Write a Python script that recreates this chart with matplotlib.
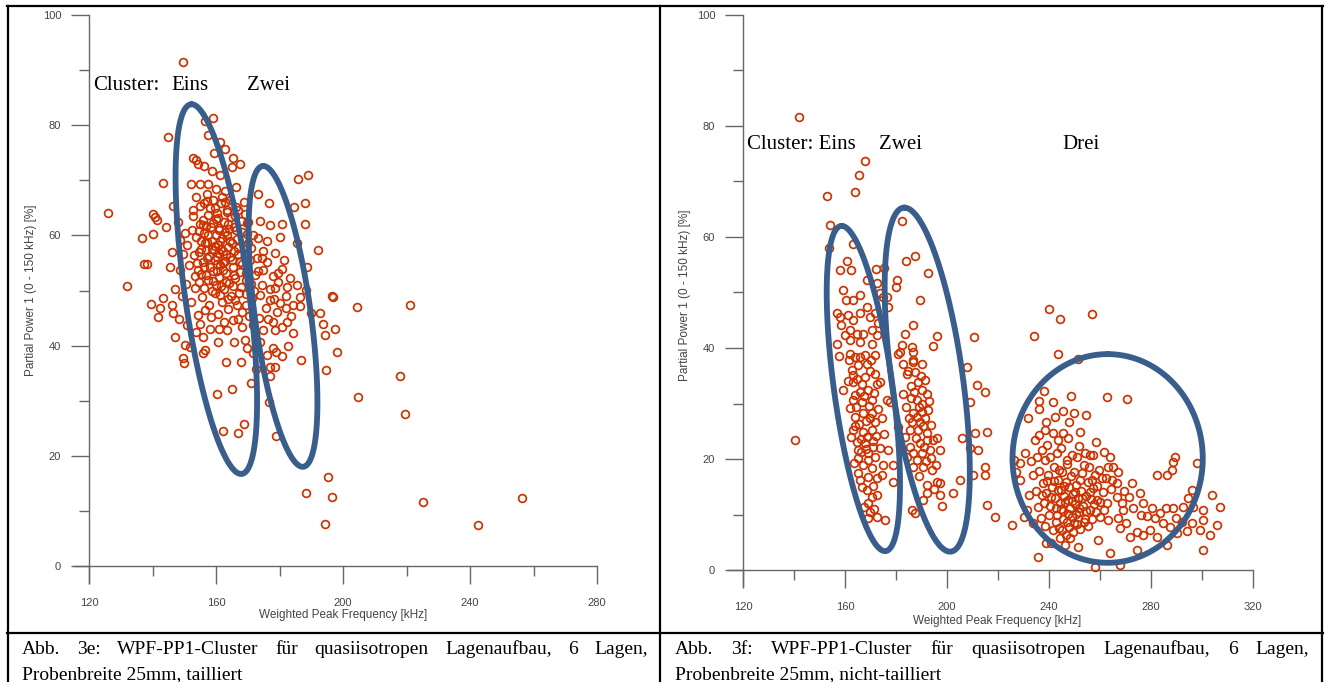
import numpy as np
import matplotlib
matplotlib.use('Agg')
import matplotlib.pyplot as plt
from matplotlib.lines import Line2D

W, H = 1330, 682

# ---- Abb. 3e (tailliert): (WPF kHz, PP1 %)
pts_3e_spread = [
    (149.5, 91.5), (159.2, 81.3), (156.5, 80.8), (145.0, 77.9), (157.6, 78.3), (161.3, 77.0),
    (162.8, 75.6), (159.4, 74.9), (152.7, 74.1), (153.7, 73.7), (154.4, 72.9), (165.4, 74.0),
    (167.6, 72.9), (164.9, 72.5), (156.3, 72.6), (158.6, 71.7), (161.3, 71.0), (143.2, 69.6),
    (152.1, 69.3), (155.0, 69.3), (157.6, 69.4), (160.0, 68.5), (162.8, 68.1), (166.2, 68.8),
    (185.9, 70.2), (189.1, 71.0), (173.3, 67.6), (176.8, 65.8), (188.0, 65.8), (184.6, 65.2),
    (126.1, 64.1), (140.3, 63.9), (140.8, 63.4), (141.3, 62.8), (146.6, 65.3), (153.7, 67.0),
    (157.1, 67.6), (156.3, 65.8), (159.2, 66.4), (161.8, 67.0), (164.4, 66.5), (152.9, 63.5),
    (156.0, 62.8), (160.2, 64.0), (163.4, 64.6), (166.2, 65.2), (144.3, 61.5), (136.6, 59.5),
    (140.3, 60.3), (169.7, 62.3), (177.0, 61.9), (180.7, 62.0), (188.0, 62.1), (173.3, 59.5),
    (176.0, 58.9), (178.6, 56.8), (174.9, 57.1), (180.0, 59.8), (185.4, 58.6), (192.2, 57.3),
    (137.4, 54.9), (138.2, 54.9), (131.9, 50.8), (146.0, 57.0), (145.5, 54.3), (148.7, 53.7),
    (188.6, 54.3), (196.4, 49.0), (186.5, 48.9), (182.3, 50.7), (178.6, 50.4), (174.9, 53.7),
    (174.4, 51.0), (143.4, 48.6), (139.5, 47.5), (142.4, 46.8), (141.8, 45.2), (146.0, 47.4),
    (146.6, 45.9), (149.2, 49.0), (147.1, 41.6), (150.2, 40.1), (151.8, 39.8), (149.5, 37.7),
    (150.0, 36.8), (155.0, 44.0), (156.0, 41.6), (156.5, 39.2), (156.0, 38.6), (160.7, 40.7),
    (163.4, 42.8), (165.4, 44.6), (168.1, 43.4), (169.1, 41.0), (169.7, 39.5), (163.2, 37.1),
    (160.2, 31.3), (165.1, 32.1), (171.0, 33.2), (162.1, 24.5), (167.0, 24.1), (168.8, 25.8),
    (176.7, 29.8), (178.9, 23.6), (177.0, 34.4), (177.0, 36.2), (178.6, 36.1), (180.7, 38.1),
    (176.0, 38.3), (177.9, 39.5), (178.9, 38.9), (182.8, 39.9), (186.7, 37.4), (194.6, 35.6),
    (195.4, 16.1), (188.3, 13.3), (196.4, 12.5), (192.8, 45.9), (193.8, 44.0), (194.3, 41.9),
    (197.5, 43.0), (198.0, 38.9), (197.0, 48.9), (184.3, 42.2), (182.3, 44.3), (186.5, 47.1),
    (184.3, 47.4), (180.2, 47.7), (177.0, 48.3), (180.7, 43.4), (178.6, 42.8), (174.9, 42.8),
    (204.4, 47.0), (221.1, 47.4), (218.0, 34.5), (219.5, 27.6), (204.7, 30.7), (194.3, 7.7),
    (225.3, 11.6), (242.6, 7.4), (256.5, 12.4),
]
pts_3e_core = [
    (151.0, 58.2), (152.3, 61.0), (153.1, 56.4), (153.8, 59.7), (154.2, 53.8), (154.9, 62.1),
    (155.3, 57.6), (155.8, 55.1), (156.2, 60.4), (156.7, 52.9), (157.1, 58.8), (157.4, 63.7),
    (157.9, 56.3), (158.2, 54.2), (158.5, 61.5), (158.8, 59.0), (159.1, 51.7), (159.4, 57.4),
    (159.7, 55.6), (160.0, 62.9), (160.2, 53.5), (160.5, 58.3), (160.8, 60.9), (161.1, 56.8),
    (161.4, 54.6), (161.7, 50.8), (162.0, 59.6), (162.3, 57.2), (162.6, 62.4), (162.9, 55.4),
    (163.2, 53.1), (163.5, 60.1), (163.8, 57.9), (164.1, 51.4), (164.4, 56.0), (164.7, 63.3),
    (165.0, 58.6), (165.3, 54.3), (165.7, 61.6), (166.1, 52.2), (166.5, 59.3), (166.9, 56.7),
    (167.3, 49.6), (167.8, 62.7), (168.2, 54.9), (168.7, 58.0), (169.3, 51.9), (169.9, 60.3),
    (170.6, 55.5), (171.3, 48.7), (153.5, 50.4), (155.6, 48.9), (157.9, 47.3), (159.6, 49.5),
    (161.9, 47.9), (163.7, 46.6), (165.9, 48.2), (168.1, 46.1), (170.4, 45.4), (172.2, 52.8),
    (152.6, 64.6), (155.1, 65.4), (158.0, 64.9), (161.5, 65.8), (164.2, 61.2), (159.9, 60.0),
    (161.2, 58.9), (160.3, 56.1), (158.6, 57.6), (157.2, 55.9), (159.0, 53.6), (162.1, 55.0),
    (163.0, 51.6), (160.9, 52.5), (156.3, 54.3), (154.6, 60.8), (156.9, 61.7), (165.6, 57.2),
    (167.5, 53.4), (166.8, 64.6), (162.7, 66.1), (169.0, 63.8), (171.0, 57.7), (172.9, 55.9),
    (174.0, 49.2), (175.8, 46.9), (173.6, 45.0), (171.8, 43.7), (169.5, 47.3), (167.0, 44.8),
    (164.6, 49.0), (162.4, 44.3), (160.6, 45.8), (158.4, 45.1), (156.6, 46.4), (154.2, 45.6),
    (152.0, 47.9), (150.6, 51.2), (151.6, 54.6), (149.6, 56.6), (150.2, 60.5), (148.8, 59.1),
    (147.9, 62.5), (147.2, 50.3), (179.6, 53.1), (181.5, 55.6), (183.3, 52.2), (185.6, 51.0),
    (176.1, 55.2), (177.8, 52.6), (179.1, 46.1), (181.9, 49.0), (183.7, 45.4), (188.4, 50.1),
    (190.0, 46.0), (173.8, 40.6), (171.5, 38.6), (172.6, 35.7), (167.9, 37.0), (165.8, 40.6),
    (160.9, 43.1), (158.1, 43.0), (153.6, 42.5), (151.0, 43.8), (148.3, 44.8),
    (158.9, 62.2), (159.6, 58.1), (160.4, 54.8), (161.0, 61.3), (161.6, 57.5), (162.2, 53.8),
    (162.8, 60.7), (163.3, 56.6), (163.9, 62.0), (164.5, 58.9), (165.1, 55.6), (165.8, 52.9),
    (166.4, 61.0), (167.0, 57.8), (167.6, 55.1), (168.3, 60.6), (169.0, 56.5), (169.6, 53.1),
    (170.2, 58.7), (157.6, 60.1), (157.0, 57.3), (156.4, 58.6), (155.9, 61.9), (155.2, 59.0),
    (154.5, 56.9), (153.9, 55.0), (153.3, 52.6), (154.8, 51.5), (156.1, 50.5), (157.5, 51.9),
    (158.7, 49.9), (160.0, 51.0), (161.3, 49.1), (162.6, 50.3), (163.9, 48.5), (165.2, 50.9),
    (166.6, 47.4), (168.0, 50.6), (169.4, 49.4), (170.9, 51.1), (172.1, 49.9), (173.3, 53.6),
    (174.6, 55.9), (176.9, 50.2), (178.2, 48.4), (179.4, 51.6), (180.8, 53.9), (182.1, 46.8),
    (176.4, 44.8), (178.0, 44.3), (155.3, 53.0), (159.8, 64.9), (163.6, 64.3), (157.3, 66.3),
    (160.7, 63.2), (166.0, 63.5), (168.9, 66.0), (170.1, 62.4), (171.6, 60.0), (173.8, 62.7),
]

# ---- Abb. 3f (nicht-tailliert)
pts_3f_eins_zwei = [
    (142.1, 81.7), (167.8, 73.7), (165.6, 71.2), (163.9, 68.1), (153.1, 67.3), (154.1, 62.2),
    (153.8, 58.1), (163.3, 58.7), (182.2, 62.8), (183.8, 55.7), (187.5, 56.5), (192.4, 53.6),
    (189.4, 48.6), (160.7, 55.7), (158.0, 54.1), (162.4, 54.1), (172.2, 54.2), (175.3, 54.4),
    (180.3, 52.3), (180.0, 51.0), (176.4, 49.2), (177.0, 47.4), (159.3, 50.5), (160.4, 48.6),
    (163.3, 48.6), (165.9, 49.5), (168.5, 52.3), (172.4, 51.7), (173.7, 49.9), (175.0, 49.2),
    (156.7, 46.3), (158.0, 45.6), (161.3, 45.9), (163.3, 45.0), (165.9, 46.3), (168.5, 47.4),
    (169.8, 45.6), (171.8, 46.3), (162.0, 43.2), (164.6, 42.6), (167.2, 42.6), (170.5, 43.2),
    (172.4, 42.3), (162.0, 41.4), (165.9, 41.1), (170.5, 40.8), (156.7, 40.8), (183.5, 42.6),
    (186.8, 44.1), (182.2, 40.5), (186.2, 40.2), (196.0, 42.2), (194.4, 40.4), (210.7, 42.0),
    (162.0, 39.0), (164.0, 38.4), (171.8, 38.7), (167.8, 38.7), (180.9, 39.0), (186.8, 37.8),
    (140.4, 23.4), (159.3, 32.4), (162.6, 36.0), (165.2, 36.9), (168.5, 37.2), (171.8, 35.4),
    (172.4, 33.6), (173.7, 33.9), (163.3, 33.9), (166.5, 33.6), (169.1, 32.4), (163.3, 30.6),
    (166.5, 30.3), (170.5, 30.6), (176.4, 30.6), (177.6, 30.3), (163.9, 27.6), (167.2, 28.2),
    (170.5, 28.2), (171.8, 26.7), (163.3, 25.2), (167.2, 24.9), (170.5, 25.2), (164.6, 23.1),
    (167.8, 22.8), (171.1, 22.2), (173.7, 21.9), (177.0, 21.6), (165.2, 21.6), (169.1, 21.0),
    (165.2, 20.1), (169.1, 19.8), (175.0, 18.9), (178.9, 18.9), (170.5, 18.3), (165.2, 17.4),
    (165.9, 16.2), (169.1, 16.8), (172.4, 16.5), (178.9, 15.9), (168.5, 14.4), (170.5, 13.2),
    (172.4, 13.5), (169.1, 12.0), (169.8, 10.5), (169.1, 9.3), (172.4, 9.6), (175.7, 9.0),
    (181.6, 39.3), (186.8, 39.3), (182.9, 37.2), (186.8, 37.5), (190.1, 37.2), (184.2, 35.4),
    (188.8, 33.9), (190.1, 32.4), (192.0, 31.8), (182.9, 31.8), (188.1, 30.6), (190.1, 30.0),
    (186.8, 28.2), (190.1, 28.5), (192.7, 28.8), (186.2, 26.7), (189.4, 26.7), (191.4, 27.3),
    (180.9, 25.8), (185.5, 25.2), (188.8, 25.2), (192.0, 24.6), (181.6, 22.5), (185.5, 22.2),
    (189.4, 22.8), (192.0, 23.4), (194.6, 23.4), (196.0, 23.7), (197.3, 21.6), (186.8, 21.0),
    (190.1, 21.0), (193.3, 21.6), (186.8, 18.6), (190.7, 18.6), (194.0, 18.0), (196.0, 15.9),
    (197.3, 15.6), (192.0, 15.3), (192.0, 13.8), (197.3, 13.5), (197.9, 11.5), (186.2, 10.8),
    (187.5, 10.2), (202.5, 13.8), (205.1, 16.2), (205.8, 23.7), (209.0, 21.9), (212.3, 21.6),
    (211.0, 24.6), (215.6, 24.9), (207.7, 36.6), (211.6, 33.3), (214.9, 32.1), (209.0, 30.3),
    (210.3, 17.2), (214.9, 18.6), (214.9, 17.1), (215.6, 11.7), (218.8, 9.6),
    (161.5, 37.8), (163.0, 35.2), (164.8, 34.4), (166.0, 32.0), (167.9, 34.8), (169.9, 35.9),
    (161.8, 29.1), (164.2, 29.4), (165.6, 26.3), (168.4, 26.9), (169.6, 29.6), (172.9, 29.0),
    (174.4, 27.4), (162.4, 23.9), (166.1, 23.6), (168.6, 24.0), (172.3, 24.2), (175.4, 24.5),
    (163.6, 19.2), (167.1, 18.9), (171.8, 20.4), (174.6, 17.2), (166.7, 14.9), (170.9, 15.2),
    (167.4, 11.4), (171.2, 11.0), (168.3, 21.8), (164.1, 31.6), (161.0, 34.1), (170.2, 37.9),
    (173.0, 44.5), (160.0, 42.4), (158.6, 44.2), (157.5, 38.5),
    (183.9, 29.4), (185.8, 33.2), (187.4, 35.7), (189.7, 35.0), (191.3, 34.3), (185.0, 27.3),
    (187.9, 23.8), (190.6, 25.9), (193.6, 26.1), (183.6, 24.0), (188.2, 19.9), (191.6, 19.6),
    (193.9, 20.1), (189.0, 16.9), (194.8, 14.6), (190.4, 12.7), (195.6, 18.9), (184.5, 20.4),
    (192.9, 30.4), (186.0, 31.0),
    (165.8, 38.3), (167.4, 31.4), (171.3, 31.9), (164.0, 25.9), (169.9, 27.4), (166.3, 21.3),
    (171.0, 23.2), (187.0, 32.1), (189.0, 29.4), (191.0, 22.2), (184.8, 35.9), (188.3, 27.5),
]
pts_3f_drei = [
    (240.1, 47.0), (244.3, 45.2), (257.0, 46.1), (234.2, 42.2), (243.7, 38.9), (251.5, 38.0),
    (262.9, 31.2), (270.5, 30.9), (236.2, 30.5), (236.2, 29.0), (241.7, 30.2), (248.5, 31.4),
    (245.4, 28.7), (249.8, 28.3), (254.5, 28.0), (238.8, 26.7), (238.4, 25.2), (241.7, 24.7),
    (245.6, 24.6), (234.5, 23.4), (239.1, 22.5), (243.6, 23.4), (251.9, 22.3), (256.1, 20.7),
    (248.9, 20.7), (235.2, 20.4), (238.4, 19.8), (243.0, 21.0), (246.9, 19.8), (250.9, 20.4),
    (254.1, 21.0), (257.4, 20.7), (228.6, 19.2), (228.6, 16.2), (233.8, 17.1), (282.2, 17.1),
    (286.2, 17.1), (288.1, 18.0), (288.8, 19.5), (289.4, 20.4), (297.9, 19.2), (263.3, 18.6),
    (265.2, 18.6), (267.2, 17.7), (260.7, 16.5), (264.6, 16.2), (266.5, 15.6), (272.4, 15.6),
    (258.7, 12.6), (262.6, 12.0), (266.5, 13.2), (268.5, 12.0), (269.2, 10.8), (273.1, 11.1),
    (277.0, 12.0), (280.3, 11.1), (288.8, 11.1), (292.7, 11.4), (294.6, 12.9), (300.5, 10.8),
    (303.8, 13.5), (307.1, 11.4), (260.0, 9.6), (263.3, 9.0), (267.2, 9.3), (267.8, 7.5),
    (271.8, 6.0), (274.4, 6.9), (277.0, 6.3), (279.6, 7.2), (282.2, 6.0), (284.8, 8.4),
    (287.5, 7.8), (290.1, 6.6), (286.2, 4.5), (274.4, 3.6), (296.0, 8.4), (299.2, 7.2),
    (300.5, 9.0), (303.1, 6.3), (305.8, 8.1), (300.5, 3.6), (296.6, 11.4), (296.0, 14.4),
    (235.8, 2.4), (258.0, 0.6), (263.9, 3.0), (267.8, 0.9), (259.3, 5.4), (238.8, 4.9),
    (240.8, 4.8), (244.3, 5.7), (246.3, 4.5), (251.5, 4.2), (248.2, 5.7), (225.4, 8.1),
    (230.0, 9.6), (233.8, 8.4), (226.4, 19.8), (227.0, 17.6),
    (236.0, 17.8), (237.5, 15.6), (238.9, 13.9), (239.6, 17.2), (240.4, 11.6), (241.2, 15.0),
    (241.9, 18.6), (242.5, 13.0), (243.1, 9.9), (243.6, 16.3), (244.2, 12.1), (244.7, 14.5),
    (245.1, 17.6), (245.6, 10.6), (246.0, 13.4), (246.5, 15.8), (246.9, 8.7), (247.3, 12.6),
    (247.8, 14.9), (248.2, 11.2), (248.6, 16.9), (249.1, 9.6), (249.5, 13.7), (250.0, 11.9),
    (250.4, 15.4), (250.9, 8.2), (251.4, 12.9), (251.9, 10.4), (252.4, 14.2), (252.9, 17.4),
    (253.5, 11.6), (254.1, 9.2), (254.7, 13.4), (255.3, 15.9), (256.0, 10.9), (256.6, 12.8),
    (257.3, 14.7), (258.1, 17.2), (258.9, 15.1), (259.6, 18.0), (261.0, 14.0), (262.2, 16.6),
    (234.9, 14.2), (235.6, 11.3), (236.8, 9.4), (237.9, 12.0), (238.6, 7.9), (239.9, 10.0),
    (241.4, 7.2), (242.8, 11.1), (244.0, 7.6), (245.4, 9.1), (246.7, 6.3), (247.9, 7.8),
    (249.4, 6.9), (250.7, 10.1), (252.2, 7.4), (253.6, 8.6), (255.2, 7.9), (256.8, 9.2),
    (258.3, 10.4), (232.1, 13.5), (231.5, 10.9), (233.0, 19.6), (230.4, 21.1), (237.2, 21.6),
    (240.2, 20.4), (244.6, 22.0), (247.5, 23.7), (252.3, 24.9), (255.7, 18.6), (258.4, 23.1),
    (261.5, 21.3), (263.8, 20.4), (269.6, 14.3), (271.3, 13.2), (275.5, 13.8), (278.4, 9.8),
    (281.7, 9.3), (283.5, 10.2), (285.9, 11.2), (289.9, 9.4), (292.1, 8.7), (294.0, 7.0),
    (236.0, 24.4), (248.0, 26.6), (242.4, 27.5), (238.0, 32.2), (231.8, 27.3),
    (240.9, 13.2), (242.1, 16.0), (243.4, 14.4), (244.9, 11.0), (246.2, 12.2), (247.6, 10.1),
    (248.9, 12.4), (250.2, 14.1), (251.6, 11.1), (253.0, 12.9), (254.4, 10.6), (255.9, 14.0),
    (257.6, 11.9), (239.1, 16.0), (237.2, 13.5), (245.8, 15.1), (249.8, 17.6), (252.0, 16.2),
    (243.9, 18.1), (247.1, 19.1), (253.9, 18.9), (245.0, 7.2), (249.9, 8.4), (242.6, 8.6),
    (257.0, 16.3), (259.9, 12.2), (261.4, 10.8), (264.2, 14.6), (270.2, 8.4), (276.0, 9.9),
]

# cluster outlines: (top x, top y, bottom x, bottom y, half width in kHz)
outlines_3e = [(152.3, 83.8, 167.9, 16.7, 10.2), (174.9, 72.6, 187.3, 18.0, 8.9)]
outlines_3f = [(158.7, 62.0, 175.7, 3.4, 11.6), (183.3, 65.3, 201.2, 3.3, 14.1),
               (263.0, 38.9, 263.0, 1.3, 37.3)]

xticks_3e = [120, 160, 200, 240, 280]
xticks_3f = [120, 160, 200, 240, 280, 320]
yticks = [0, 20, 40, 60, 80, 100]

caption_3e = ["Abb. 3e: WPF-PP1-Cluster für quasiisotropen Lagenaufbau, 6 Lagen,",
              "Probenbreite 25mm, tailliert"]
caption_3f = ["Abb. 3f: WPF-PP1-Cluster für quasiisotropen Lagenaufbau, 6 Lagen,",
              "Probenbreite 25mm, nicht-tailliert"]

RED = '#cc3300'
BLUE = '#3a5e8c'
AXC = '#666666'
SERIF = 'Liberation Serif'
SANS = 'Liberation Sans'


def fx(px):
    return px / W


def fy(py):
    return 1 - py / H


def setup_axes(ax, xticks, xlo):
    ax.set_xlim(xlo, xticks[-1])
    for s in ['top', 'right']:
        ax.spines[s].set_visible(False)
    ax.spines['left'].set_position(('data', 120))
    ax.spines['bottom'].set_position(('data', 0))
    for s in ['left', 'bottom']:
        ax.spines[s].set_color(AXC)
        ax.spines[s].set_linewidth(1.0)
    ax.set_xticks(xticks)
    ax.set_xticks([t + 20 for t in xticks[:-1]], minor=True)
    ax.set_yticks(yticks)
    ax.set_yticks([t + 10 for t in yticks[:-1]], minor=True)
    ax.tick_params(which='major', direction='out', length=13, width=1.0, color=AXC,
                   labelsize=8, labelcolor='#444444')
    ax.tick_params(axis='x', which='major', pad=10)
    ax.tick_params(axis='y', which='major', pad=7)
    ax.tick_params(which='minor', direction='out', length=7, width=1.0, color=AXC)
    for lab in ax.get_xticklabels() + ax.get_yticklabels():
        lab.set_family(SANS)
    ax.set_xlabel('Weighted Peak Frequency [kHz]', fontsize=8.5, color='#444444', family=SANS)
    ax.set_ylabel('Partial Power 1 (0 - 150 kHz) [%]', fontsize=8.5, color='#444444', family=SANS)
    ax.patch.set_alpha(0)


def draw_points(ax, pts):
    a = np.array(pts)
    ax.plot(a[:, 0], a[:, 1], 'o', ls='none', ms=5.6, mfc='none', mec=RED, mew=1.25, zorder=3)


def draw_outlines(ax, outlines):
    t = np.linspace(0, 2 * np.pi, 300)
    for xt, yt, xb, yb, hw in outlines:
        cx, cy = (xt + xb) / 2, (yt + yb) / 2
        ux, uy = (xt - xb) / 2, (yt - yb) / 2
        ax.plot(cx + ux * np.cos(t) + hw * np.sin(t), cy + uy * np.cos(t),
                color=BLUE, lw=4.2, zorder=4, solid_capstyle='round')


def justified(fig, words, x0, x1, py, size):
    texts = [fig.text(0, fy(py), w, fontsize=size, family=SERIF, va='baseline') for w in words]
    r = fig.canvas.get_renderer()
    widths = [t.get_window_extent(r).width for t in texts]
    gap = (x1 - x0 - sum(widths)) / (len(words) - 1)
    x = x0
    for t, w in zip(texts, widths):
        t.set_x(fx(x))
        x += w + gap


fig = plt.figure(figsize=(W / 100, H / 100), dpi=100)

# left panel: x 120 at px 89, 280 at 597; y 0 at 566, 100 at 15
ax1 = fig.add_axes([fx(74), fy(583), (597 - 74) / W, (583 - 15) / H])
ax1.set_ylim(-(583 - 566) / 5.51, 100)
setup_axes(ax1, xticks_3e, 120 - (89 - 74) / 3.175)
draw_points(ax1, pts_3e_spread + pts_3e_core)
draw_outlines(ax1, outlines_3e)
ax1.xaxis.set_label_coords((343 - 74) / (597 - 74), -(609 - 583) / (583 - 15))
ax1.yaxis.set_label_coords(-(74 - 37) / (597 - 74), (583 - 290) / (583 - 15))

# right panel: x 120 at px 743, 320 at 1253; y 0 at 570, 100 at 15
ax2 = fig.add_axes([fx(728), fy(586), (1253 - 728) / W, (586 - 15) / H])
ax2.set_ylim(-(586 - 570) / 5.55, 100)
setup_axes(ax2, xticks_3f, 120 - (743 - 728) / 2.55)
draw_points(ax2, pts_3f_eins_zwei + pts_3f_drei)
draw_outlines(ax2, outlines_3f)
ax2.xaxis.set_label_coords((997 - 728) / (1253 - 728), -(615 - 586) / (586 - 15))
ax2.yaxis.set_label_coords(-(728 - 691) / (1253 - 728), (586 - 295) / (586 - 15))

# cluster names
lab = dict(fontsize=15, family=SERIF, va='baseline', color='black')
fig.text(fx(93), fy(90.5), 'Cluster:', **lab)
fig.text(fx(171.5), fy(90.5), 'Eins', **lab)
fig.text(fx(247), fy(90.5), 'Zwei', **lab)
fig.text(fx(747), fy(149), 'Cluster: Eins', **lab)
fig.text(fx(879), fy(149), 'Zwei', **lab)
fig.text(fx(1062), fy(149), 'Drei', **lab)

# table frame
frame = dict(color='black', lw=1.6, transform=fig.transFigure)
fig.add_artist(Line2D([fx(7), fx(1323)], [fy(6), fy(6)], **frame))
fig.add_artist(Line2D([fx(7), fx(1323)], [fy(633), fy(633)], **frame))
for px in [8, 660, 1322]:
    fig.add_artist(Line2D([fx(px), fx(px)], [fy(6), fy(682)], **frame))

# captions
justified(fig, caption_3e[0].split(), 22, 648, 654, 14)
fig.text(fx(22), fy(679), caption_3e[1], fontsize=14, family=SERIF, va='baseline')
justified(fig, caption_3f[0].split(), 675, 1309, 654, 14)
fig.text(fx(675), fy(679), caption_3f[1], fontsize=14, family=SERIF, va='baseline')

fig.savefig('out.png', dpi=100)
